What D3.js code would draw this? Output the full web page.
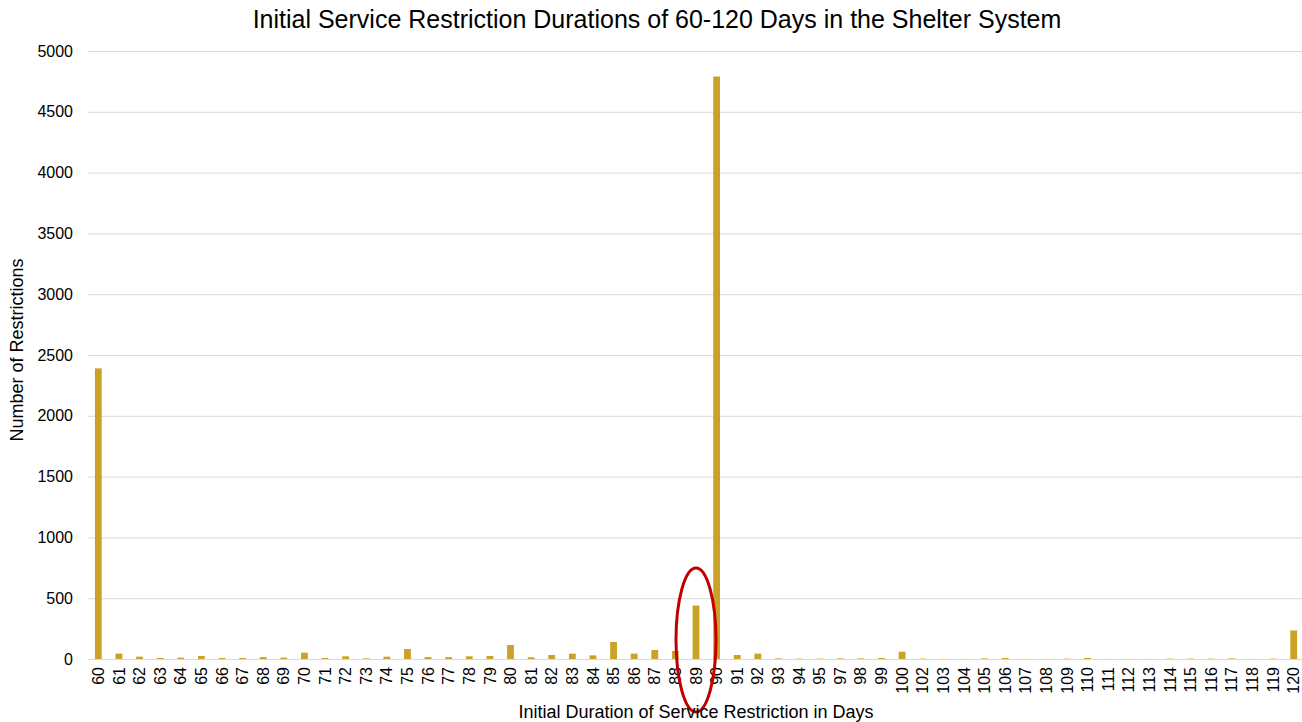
<!DOCTYPE html>
<html>
<head>
<meta charset="utf-8">
<title>Initial Service Restriction Durations</title>
<script src="https://d3js.org/d3.v7.min.js"></script>
<style>
body { margin: 0; background: #fff; }
text { font-family: "Liberation Sans", Arial, sans-serif; fill: #000; }
</style>
</head>
<body>
<svg id="chart" width="1302" height="722"></svg>
<script>
// Days shown on the axis (96 and 101 have no entry in the source chart)
var days = ["60","61","62","63","64","65","66","67","68","69","70","71","72","73","74","75","76","77","78","79",
  "80","81","82","83","84","85","86","87","88","89","90","91","92","93","94","95","97","98","99","100",
  "102","103","104","105","106","107","108","109","110","111","112","113","114","115","116","117","118","119","120"];
var counts = [2390,44,19,8,11,25,8,8,16,11,52,8,22,5,19,82,16,16,22,25,
  115,14,33,44,30,140,44,74,66,440,4790,33,44,5,3,3,5,5,8,60,
  3,1,1,5,8,1,1,3,8,1,1,1,3,3,3,5,1,3,235];
var yTicks = [0,500,1000,1500,2000,2500,3000,3500,4000,4500,5000];
var highlightDay = "89";

var svg = d3.select("#chart");
var margin = {left: 88, right: -2};
var x = d3.scaleBand().domain(days).range([margin.left, 1302 - margin.right]).paddingInner(0.67).paddingOuter(0.335);
var y = d3.scaleLinear().domain([0, 5000]).range([659, 51]);

// gridlines
svg.append("g").selectAll("line").data(yTicks).enter().append("line")
  .attr("x1", margin.left).attr("x2", 1304)
  .attr("y1", function(d){ return y(d) + 0.5; }).attr("y2", function(d){ return y(d) + 0.5; })
  .attr("stroke", "#d9d9d9").attr("stroke-width", 1);

// y tick labels
svg.append("g").selectAll("text").data(yTicks).enter().append("text")
  .attr("x", 73).attr("y", function(d){ return y(d); })
  .attr("dy", "0.35em").attr("text-anchor", "end")
  .style("font-size", "16px").text(function(d){ return d; });

// bars
svg.append("g").selectAll("rect").data(days).enter().append("rect")
  .attr("x", function(d){ return x(d); })
  .attr("width", x.bandwidth())
  .attr("y", function(d, i){ return y(counts[i]); })
  .attr("height", function(d, i){ return y(0) - y(counts[i]); })
  .attr("fill", "#c9a227");

// x tick labels
svg.append("g").selectAll("text").data(days).enter().append("text")
  .attr("transform", function(d){ return "translate(" + (x(d) + x.bandwidth() / 2) + ",667)rotate(-90)"; })
  .attr("dy", "0.35em").attr("text-anchor", "end")
  .style("font-size", "16px").text(function(d){ return d; });

// highlight ellipse around day 89
svg.append("ellipse")
  .attr("cx", x(highlightDay) + x.bandwidth() / 2)
  .attr("cy", 640).attr("rx", 20).attr("ry", 72)
  .attr("fill", "none").attr("stroke", "#c00000").attr("stroke-width", 3);

// titles
svg.append("text").attr("x", 657).attr("y", 28).attr("text-anchor", "middle")
  .style("font-size", "25px").text("Initial Service Restriction Durations of 60-120 Days in the Shelter System");
svg.append("text").attr("x", 696).attr("y", 718).attr("text-anchor", "middle")
  .style("font-size", "18px").text("Initial Duration of Service Restriction in Days");
svg.append("text").attr("transform", "translate(23,350)rotate(-90)").attr("text-anchor", "middle")
  .style("font-size", "18px").text("Number of Restrictions");
</script>
</body>
</html>
